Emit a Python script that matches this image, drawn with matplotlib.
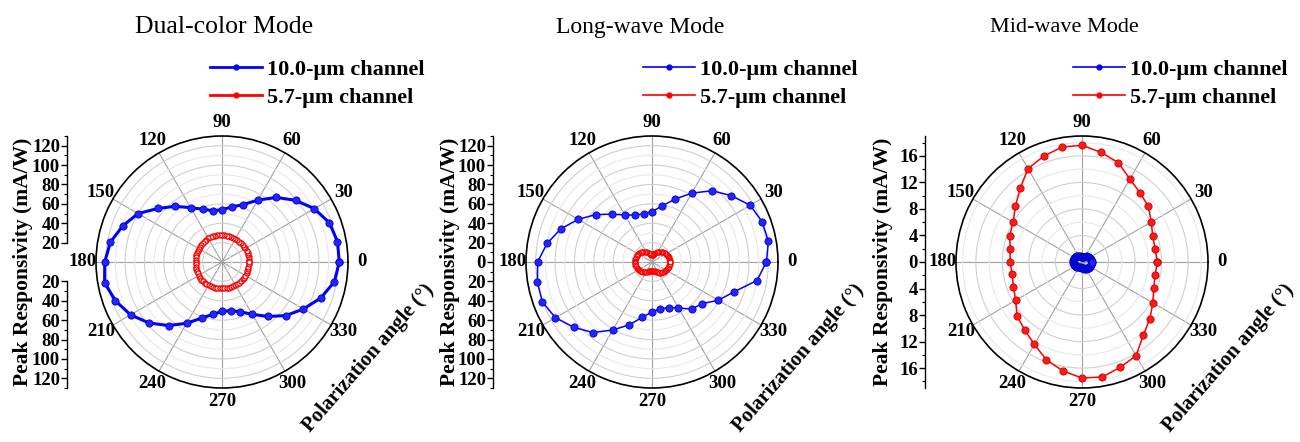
import numpy as np
import matplotlib
matplotlib.use("Agg")
import matplotlib.pyplot as plt
from matplotlib.lines import Line2D

plt.rcParams["font.family"] = ["Liberation Serif", "DejaVu Serif"]

# ---- data (responsivity in mA/W vs polarization angle in degrees) ----
angles_10 = np.arange(0, 360, 10)
angles_5 = np.arange(0, 360, 5)

dual_10um = [121, 121, 118, 110, 99, 87, 73.6, 63, 57.6, 54, 53.7, 58,
             64.7, 75, 86, 100, 109, 117, 121, 123, 117, 109, 98, 85.6,
             73, 61.6, 54.8, 51, 51, 54.6, 62.3, 73.4, 86, 97, 108.5, 117.7]
dual_5um = [27.6, 27.7, 27.8, 27.9, 28.0, 28.0, 27.9, 27.8, 27.7, 27.6, 27.5, 27.4,
            27.4, 27.3, 27.3, 27.3, 27.4, 27.5, 27.6, 27.7, 27.8, 27.9, 28.0, 28.0,
            28.0, 27.9, 27.9, 27.8, 27.7, 27.6, 27.5, 27.4, 27.3, 27.3, 27.2, 27.2,
            27.3, 27.4, 27.5, 27.6, 27.7, 27.8, 27.9, 28.0, 28.1, 28.1, 28.0, 27.9,
            27.8, 27.7, 27.6, 27.5, 27.4, 27.3, 27.2, 27.2, 27.2, 27.3, 27.4, 27.5,
            27.6, 27.7, 27.8, 27.9, 28.0, 28.0, 27.9, 27.9, 27.8, 27.7, 27.6, 27.6]

long_10um = [118, 122, 121, 117, 106.6, 96, 82, 69, 58.5, 52, 50.4, 51.6,
             56, 64.5, 76, 88, 100, 110, 118, 120, 120.4, 115, 105, 95,
             81, 69, 58, 51.5, 49, 50, 54.6, 63.6, 67, 79, 90, 110]
long_5um = [18.5, 18.5, 18.3, 18.0, 17.6, 17.1, 16.6, 16.0, 15.4, 14.8, 14.0, 13.1,
            12.1, 11.0, 9.9, 8.9, 8.0, 7.4, 7.2, 7.4, 8.0, 8.9, 10.0, 11.1,
            12.2, 13.2, 14.0, 14.7, 15.3, 15.8, 16.3, 16.7, 17.0, 17.2, 17.4, 17.5,
            17.5, 17.5, 17.4, 17.2, 16.9, 16.5, 16.0, 15.4, 14.7, 14.0, 13.2, 12.4,
            11.6, 10.9, 10.3, 9.8, 9.4, 9.2, 9.1, 9.2, 9.5, 10.0, 10.7, 11.5,
            12.4, 13.3, 14.2, 15.0, 15.7, 16.3, 16.8, 17.3, 17.7, 18.0, 18.3, 18.4]

mid_5um = [11.36, 11.2, 11.35, 12.06, 13.07, 13.6, 14.46, 15.95, 16.77, 17.6, 17.6, 16.96,
           16.27, 14.5, 13.1, 12.0, 11.6, 11.0, 10.85, 10.7, 11.0, 11.55, 12.77, 13.4,
           14.36, 15.7, 16.67, 17.5, 17.6, 16.9, 16.3, 14.4, 13.35, 12.35, 11.5, 11.2]
mid_10um = [1.45, 1.45, 1.44, 1.42, 1.40, 1.37, 1.33, 1.28, 1.23, 1.17, 1.10, 1.02,
            0.95, 0.88, 0.82, 0.78, 0.75, 0.74, 0.75, 0.77, 0.81, 0.87, 0.93, 1.00,
            1.06, 1.12, 1.17, 1.21, 1.24, 1.27, 1.29, 1.30, 1.31, 1.31, 1.31, 1.30,
            1.30, 1.29, 1.28, 1.26, 1.24, 1.21, 1.18, 1.14, 1.10, 1.05, 1.00, 0.95,
            0.91, 0.88, 0.86, 0.85, 0.85, 0.86, 0.88, 0.91, 0.95, 1.00, 1.05, 1.10,
            1.15, 1.20, 1.24, 1.28, 1.32, 1.35, 1.38, 1.40, 1.42, 1.43, 1.44, 1.45]

titles = ["Dual-color Mode", "Long-wave Mode", "Mid-wave Mode"]
legend_labels = ["10.0-\u03bcm channel", "5.7-\u03bcm channel"]

W, H = 1300, 442
CY, R = 262, 126
BLUE, RED = "#0000ff", "#ff0000"


def closed(theta_deg, r):
    t = np.deg2rad(np.append(theta_deg, theta_deg[0]))
    return t, np.append(r, r[0])


def series(ax, theta_deg, r, color, lw, ms, hollow=False):
    t, rr = closed(theta_deg, r)
    if hollow:
        ax.plot(t, rr, color=color, lw=lw, marker="o", ms=ms, mfc="white",
                mec=color, mew=1.0, zorder=4)
    else:
        face = "#2424ff" if color == BLUE else "#ff1a1a"
        edge = "#0000c8" if color == BLUE else "#c80000"
        ax.plot(t, rr, color=color, lw=lw, marker="o", ms=ms, mfc=face,
                mec=edge, mew=0.6, zorder=4)


def polar_panel(cx, rmax, rstep):
    ax = fig.add_axes([(cx - R) / W, (H - CY - R) / H, 2 * R / W, 2 * R / H],
                      projection="polar")
    ax.set_ylim(0, rmax)
    ax.set_yticks(np.arange(2 * rstep, rmax, 2 * rstep))
    ax.set_yticks(np.arange(rstep, rmax, 2 * rstep), minor=True)
    ax.set_yticklabels([])
    ax.yaxis.grid(True, which="major", color="#cfcfcf", lw=0.8)
    ax.yaxis.grid(True, which="minor", color="#e8e8e8", lw=0.8)
    ax.set_thetagrids(np.arange(0, 360, 30), [str(a) for a in range(0, 360, 30)],
                      fontsize=13.5, fontweight="bold")
    ax.xaxis.grid(True, color="#a0a0a0", lw=0.8)
    ax.tick_params(axis="x", direction="in", length=5, width=1, pad=3)
    ax.spines["polar"].set_linewidth(1.2)
    return ax


def radial_scale(x_px, rmax, lo, hi, major, minor):
    sax = fig.add_axes([x_px / W, (H - CY - R) / H, 0.0005, 2 * R / H])
    sax.set_ylim(-rmax, rmax)
    for s in ("top", "right", "bottom"):
        sax.spines[s].set_visible(False)
    sax.spines["left"].set_bounds(lo, hi)
    sax.spines["left"].set_linewidth(1.0)
    sax.set_xticks([])
    sax.set_yticks(major)
    sax.set_yticklabels([f"{abs(v):g}" for v in major], fontsize=13.5, fontweight="bold")
    sax.set_yticks(minor, minor=True)
    sax.tick_params(axis="y", which="major", direction="out", length=4, width=1, pad=1)
    sax.tick_params(axis="y", which="minor", direction="out", length=2, width=0.8)
    sax.patch.set_visible(False)
    return sax


def legend(ax, x_px, y_px, lw):
    handles = [Line2D([], [], color=BLUE, lw=lw, marker="o", ms=3.5, mfc=BLUE),
               Line2D([], [], color=RED, lw=lw, marker="o", ms=3.5, mfc=RED)]
    leg = ax.legend(handles, legend_labels, loc="upper left",
                    bbox_to_anchor=(x_px / W, 1 - y_px / H),
                    bbox_transform=fig.transFigure, frameon=False,
                    prop={"weight": "bold", "size": 16}, handlelength=2.35,
                    handletextpad=0.2, labelspacing=0.36, borderpad=0,
                    borderaxespad=0)
    return leg


fig = plt.figure(figsize=(W / 100, H / 100), dpi=100)

centers = [222, 652, 1082]
axis_x = [67, 493, 925]

# Panel 1: dual-color
ax1 = polar_panel(centers[0], 130, 10)
series(ax1, angles_10, dual_10um, BLUE, 2.2, 5.2)
series(ax1, angles_5, dual_5um, RED, 0.8, 3.6, hollow=True)
radial_scale(axis_x[0], 130, 20, 130, np.arange(20, 121, 20), np.arange(30, 131, 20))
radial_scale(axis_x[0], 130, -130, -20, np.arange(-120, -19, 20), np.arange(-130, -29, 20))
legend(ax1, 210, 59, 2.0)

# Panel 2: long-wave
ax2 = polar_panel(centers[1], 130, 10)
series(ax2, angles_10, long_10um, BLUE, 1.1, 5.2)
series(ax2, angles_5, long_5um, RED, 0.8, 3.4, hollow=True)
radial_scale(axis_x[1], 130, -130, 130, np.arange(-120, 121, 20), np.arange(-130, 131, 20))
legend(ax2, 643, 59, 1.2)

# Panel 3: mid-wave
ax3 = polar_panel(centers[2], 19, 2)
series(ax3, angles_10, mid_5um, RED, 1.1, 5.2)
series(ax3, angles_5, mid_10um, BLUE, 0.8, 5.0)
radial_scale(axis_x[2], 19, -19, 19, np.arange(-16, 17, 4), np.arange(-18, 19, 4))
legend(ax3, 1073, 59, 1.2)

title_x = [224, 640, 1064]
title_size = [18.5, 17, 16]
ylabel_x = [23, 450, 883]
for i in range(3):
    fig.text(title_x[i] / W, 1 - 27 / H, titles[i], fontsize=title_size[i],
             ha="center", va="center")
    fig.text(ylabel_x[i] / W, 1 - CY / H, "Peak Responsivity (mA/W)", fontsize=15.5,
             fontweight="bold", rotation=90, ha="center", va="center")
    fig.text((centers[i] + 146) / W, 1 - 358 / H, "Polarization angle (\u00b0)",
             fontsize=15, fontweight="bold", rotation=49, ha="center",
             va="center", rotation_mode="anchor")

fig.savefig("out.png", dpi=100)
